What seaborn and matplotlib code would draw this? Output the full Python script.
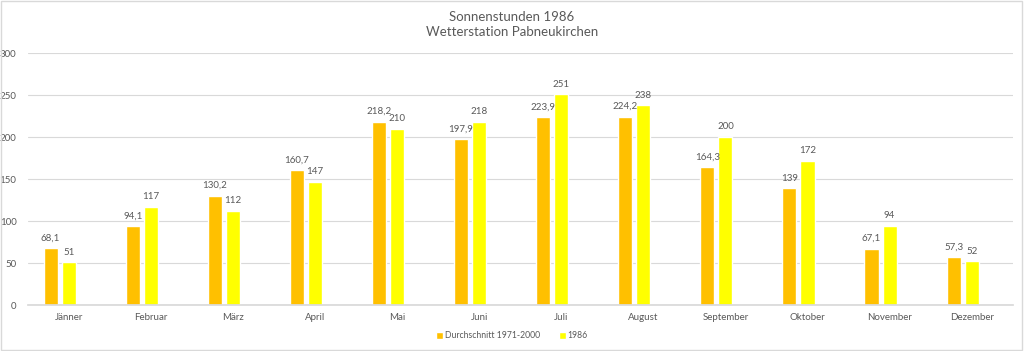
import pandas as pd
import matplotlib
matplotlib.use("Agg")
import matplotlib.pyplot as plt
import seaborn as sns

# Monate und Sonnenstunden
monate = ["Jänner", "Februar", "März", "April", "Mai", "Juni",
          "Juli", "August", "September", "Oktober", "November", "Dezember"]
durchschnitt = [68.1, 94.1, 130.2, 160.7, 218.2, 197.9, 223.9, 224.2, 164.3, 139, 67.1, 57.3]
jahr_1986 = [51, 117, 112, 147, 210, 218, 251, 238, 200, 172, 94, 52]
# dritte (leere) Serie wie im Excel-Original -> Balken nach links versetzt
leer = [None] * 12
serien = ["Durchschnitt 1971-2000", "1986", " "]
farben = ["#FFC000", "#FFFF00", "#A5A5A5"]

df = pd.DataFrame({
    "Monat": monate * 3,
    "Stunden": durchschnitt + jahr_1986 + leer,
    "Serie": [serien[0]] * 12 + [serien[1]] * 12 + [serien[2]] * 12,
})
df["Stunden"] = df["Stunden"].astype(float)

sns.set_theme(style="white")
plt.rcParams["font.family"] = ["Lato", "DejaVu Sans"]
grau = "#595959"

fig = plt.figure(figsize=(10.24, 3.51), dpi=100)
ax = fig.add_axes([0.027, 0.131, 0.962, 0.718])

sns.barplot(data=df, x="Monat", y="Stunden", hue="Serie", hue_order=serien,
            palette=farben, width=0.66, gap=0.22, ax=ax, saturation=1, legend=True)

ax.set_ylim(0, 300)
ax.set_yticks(range(0, 301, 50))
ax.grid(axis="y", color="#D9D9D9", linewidth=0.8)
ax.set_axisbelow(True)
for s in ["top", "right", "left"]:
    ax.spines[s].set_visible(False)
ax.spines["bottom"].set_color("#D9D9D9")
ax.tick_params(axis="both", length=0, labelsize=7, colors=grau)
ax.tick_params(axis="x", pad=6)
ax.tick_params(axis="y", pad=8)
ax.set_xlabel("")
ax.set_ylabel("")

for cont in ax.containers[:2]:
    labels = [f"{v:g}".replace(".", ",") for v in cont.datavalues]
    ax.bar_label(cont, labels=labels, padding=4, fontsize=7, color=grau)

fig.suptitle("Sonnenstunden 1986\nWetterstation Pabneukirchen", y=0.97,
             fontsize=9.5, color=grau, linespacing=1.35)

h, l = ax.get_legend_handles_labels()
ax.legend_.remove()
fig.legend(h[:2], l[:2], loc="center", bbox_to_anchor=(0.5, 0.043), ncol=2, frameon=False,
           fontsize=6.2, labelcolor=grau, handlelength=0.8, handleheight=0.8,
           handletextpad=0.2, columnspacing=2.2)

# Rahmen um das Diagramm
fig.patches.append(plt.Rectangle((0.001, 0.002), 0.997, 0.995, transform=fig.transFigure,
                                 fill=False, edgecolor="#D9D9D9", linewidth=1))

fig.savefig("out.png", dpi=100)
